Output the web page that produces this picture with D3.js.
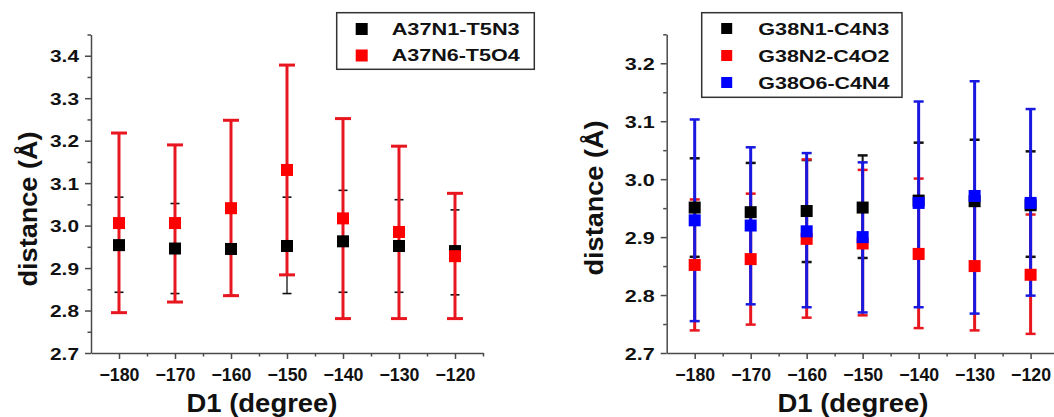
<!DOCTYPE html>
<html><head><meta charset="utf-8">
<script src="https://cdn.jsdelivr.net/npm/d3@7"></script>
<style>
html,body{margin:0;padding:0;background:#fff;}
svg{display:block;font-family:"Liberation Sans",Arial,sans-serif;font-weight:bold;}
</style></head>
<body><svg id="c" width="1054" height="417"></svg>
<script>
// ---- data ----
const dihedral = [-180, -170, -160, -150, -140, -130, -120];
const xTickLabels = [-180, -170, -160, -150, -140, -130, -120];
const xMinorTicks = [-175, -165, -155, -145, -135, -125, -115];

// left panel
const leftYTicks = [2.7, 2.8, 2.9, 3.0, 3.1, 3.2, 3.3, 3.4];
const leftYMinor = [2.75, 2.85, 2.95, 3.05, 3.15, 3.25, 3.35, 3.45];
const a37n1Name = "A37N1-T5N3";
const a37n1Mean = [2.954, 2.946, 2.945, 2.952, 2.963, 2.952, 2.940];
const a37n1Hi   = [3.067, 3.052, 3.045, 3.067, 3.083, 3.061, 3.037];
const a37n1Lo   = [2.843, 2.840, 2.836, 2.840, 2.843, 2.843, 2.837];
const a37n6Name = "A37N6-T5O4";
const a37n6Mean = [3.006, 3.006, 3.041, 3.131, 3.017, 2.985, 2.928];
const a37n6Hi   = [3.218, 3.190, 3.248, 3.378, 3.252, 3.187, 3.076];
const a37n6Lo   = [2.795, 2.820, 2.835, 2.884, 2.781, 2.781, 2.781];

// right panel
const rightYTicks = [2.7, 2.8, 2.9, 3.0, 3.1, 3.2];
const rightYMinor = [2.75, 2.85, 2.95, 3.05, 3.15, 3.25];
const g38n1Name = "G38N1-C4N3";
const g38n1Mean = [2.951, 2.943, 2.945, 2.951, 2.963, 2.962, 2.955];
const g38n1Hi   = [3.036, 3.028, 3.033, 3.041, 3.063, 3.068, 3.048];
const g38n1Lo   = [2.866, 2.858, 2.857, 2.864, 2.863, 2.856, 2.866];
const g38n2Name = "G38N2-C4O2";
const g38n2Mean = [2.852, 2.862, 2.897, 2.889, 2.871, 2.850, 2.835];
const g38n2Hi   = [2.965, 2.975, 3.034, 3.016, 3.001, 2.963, 2.939];
const g38n2Lo   = [2.739, 2.749, 2.761, 2.765, 2.743, 2.739, 2.733];
const g38o6Name = "G38O6-C4N4";
const g38o6Mean = [2.929, 2.920, 2.910, 2.900, 2.959, 2.971, 2.959];
const g38o6Hi   = [3.103, 3.055, 3.045, 3.029, 3.134, 3.169, 3.121];
const g38o6Lo   = [2.755, 2.784, 2.779, 2.770, 2.779, 2.768, 2.799];

const xTitle = "D1 (degree)";
const yTitle = "distance (Å)";

// ---- drawing ----
const svg = d3.select("#c");
const axisColor = "#4a4a4a";

const mk = (name, mean, hi, lo, marker, bar, style) => ({name, marker, bar, style,
  pts: dihedral.map((x, i) => ({x, m: mean[i], hi: hi[i], lo: lo[i]}))});

const panels = [
  {
    x0: 91, x1: 483, yDomain: [2.7, 3.45], yRange: [353, 34.5],
    yTicks: leftYTicks, yMinor: leftYMinor,
    series: [
      mk(a37n1Name, a37n1Mean, a37n1Hi, a37n1Lo, "#000", "#111", {lw: 1.3, capW: 9, capLw: 1.6}),
      mk(a37n6Name, a37n6Mean, a37n6Hi, a37n6Lo, "#ff0000", "#e8161e", {lw: 3, capW: 16, capLw: 3})
    ],
    msize: 12,
    legend: {x0: 336.7, y0: 12.7, x1: 534.3, y1: 69.3, mx: 361.7, my: [29, 55.5], tx: 391.7, ty: [35, 61], fs: 16, tl: 128, ms: 12},
    xTitleX: 262, yTitleX: 37, yTitleY: 209, ylabTL: 29
  },
  {
    x0: 666.7, x1: 1058.6, yDomain: [2.7, 3.25], yRange: [353, 34.3],
    yTicks: rightYTicks, yMinor: rightYMinor,
    series: [
      mk(g38n1Name, g38n1Mean, g38n1Hi, g38n1Lo, "#000", "#111", {lw: 2, capW: 10, capLw: 2.5}),
      mk(g38n2Name, g38n2Mean, g38n2Hi, g38n2Lo, "#ff0000", "#e8161e", {lw: 3, capW: 10, capLw: 2.5}),
      mk(g38o6Name, g38o6Mean, g38o6Hi, g38o6Lo, "#0000ff", "#1818e0", {lw: 3, capW: 10, capLw: 2.5})
    ],
    msize: 12,
    legend: {x0: 701.7, y0: 12.7, x1: 902, y1: 97.3, mx: 726.7, my: [28.5, 55.5, 82.5], tx: 758.3, ty: [35, 62, 89], fs: 17, tl: 131, ms: 11},
    xTitleX: 853, yTitleX: 603, yTitleY: 198, ylabTL: 30
  }
];

panels.forEach(p => {
  const x = d3.scaleLinear().domain([-185, -115]).range([p.x0, p.x1]);
  const y = d3.scaleLinear().domain(p.yDomain).range(p.yRange);
  const yBase = p.yRange[0];
  const g = svg.append("g");

  // minor ticks
  g.append("g").attr("transform", `translate(0,${yBase})`)
    .call(d3.axisBottom(x).tickValues(xMinorTicks).tickSize(3.5).tickSizeOuter(0).tickFormat(""))
    .call(a => a.select(".domain").remove());
  g.append("g").attr("transform", `translate(${p.x0},0)`)
    .call(d3.axisLeft(y).tickValues(p.yMinor).tickSize(3.5).tickSizeOuter(0).tickFormat(""))
    .call(a => a.select(".domain").remove());

  // major x axis
  const gx = g.append("g").attr("transform", `translate(0,${yBase})`)
    .call(d3.axisBottom(x).tickValues(xTickLabels).tickSize(6).tickSizeOuter(0).tickFormat(d3.format("d")));
  gx.selectAll(".tick text").attr("y", 0).attr("dy", 0)
    .attr("transform", "translate(0,28)")
    .style("font-size", "18px").style("font-weight", "bold").attr("fill", "#111")
    .attr("textLength", 40).attr("lengthAdjust", "spacingAndGlyphs");

  // major y axis
  const gy = g.append("g").attr("transform", `translate(${p.x0},0)`)
    .call(d3.axisLeft(y).tickValues(p.yTicks).tickSize(6).tickPadding(6).tickSizeOuter(0).tickFormat(d3.format(".1f")));
  gy.selectAll(".tick text")
    .style("font-size", "17px").style("font-weight", "bold").attr("fill", "#111")
    .attr("dy", "0.36em")
    .attr("textLength", p.ylabTL).attr("lengthAdjust", "spacingAndGlyphs");

  g.selectAll(".domain, .tick line").attr("stroke", axisColor).attr("stroke-width", 1.5);

  // error bars
  p.series.forEach(s => {
    const eb = g.append("g");
    eb.selectAll("line.v").data(s.pts).join("line")
      .attr("x1", d => x(d.x)).attr("x2", d => x(d.x))
      .attr("y1", d => y(d.hi)).attr("y2", d => y(d.lo))
      .attr("stroke", s.bar).attr("stroke-width", s.style.lw);
    ["hi", "lo"].forEach(k => {
      eb.selectAll("line." + k).data(s.pts).join("line").attr("class", k)
        .attr("x1", d => x(d.x) - s.style.capW / 2).attr("x2", d => x(d.x) + s.style.capW / 2)
        .attr("y1", d => y(d[k])).attr("y2", d => y(d[k]))
        .attr("stroke", s.bar).attr("stroke-width", s.style.capLw);
    });
  });
  // markers
  p.series.forEach(s => {
    g.append("g").selectAll("rect").data(s.pts).join("rect")
      .attr("x", d => x(d.x) - p.msize / 2).attr("y", d => y(d.m) - p.msize / 2)
      .attr("width", p.msize).attr("height", p.msize).attr("fill", s.marker);
  });

  // titles
  g.append("text").attr("x", p.xTitleX).attr("y", 412).attr("text-anchor", "middle")
    .style("font-size", "25px").attr("fill", "#111")
    .attr("textLength", 151).attr("lengthAdjust", "spacingAndGlyphs").text(xTitle);
  g.append("text").attr("transform", `translate(${p.yTitleX},${p.yTitleY}) rotate(-90)`)
    .attr("text-anchor", "middle").style("font-size", "26px").attr("fill", "#111")
    .attr("textLength", 155).attr("lengthAdjust", "spacingAndGlyphs").text(yTitle);

  // legend
  const L = p.legend;
  g.append("rect").attr("x", L.x0).attr("y", L.y0).attr("width", L.x1 - L.x0).attr("height", L.y1 - L.y0)
    .attr("fill", "#fff").attr("stroke", "#333").attr("stroke-width", 1.5);
  p.series.forEach((s, i) => {
    g.append("rect").attr("x", L.mx - L.ms / 2).attr("y", L.my[i] - L.ms / 2)
      .attr("width", L.ms).attr("height", L.ms).attr("fill", s.marker);
    g.append("text").attr("x", L.tx).attr("y", L.ty[i]).style("font-size", L.fs + "px")
      .attr("fill", "#111").attr("textLength", L.tl).attr("lengthAdjust", "spacingAndGlyphs").text(s.name);
  });
});
</script></body></html>
